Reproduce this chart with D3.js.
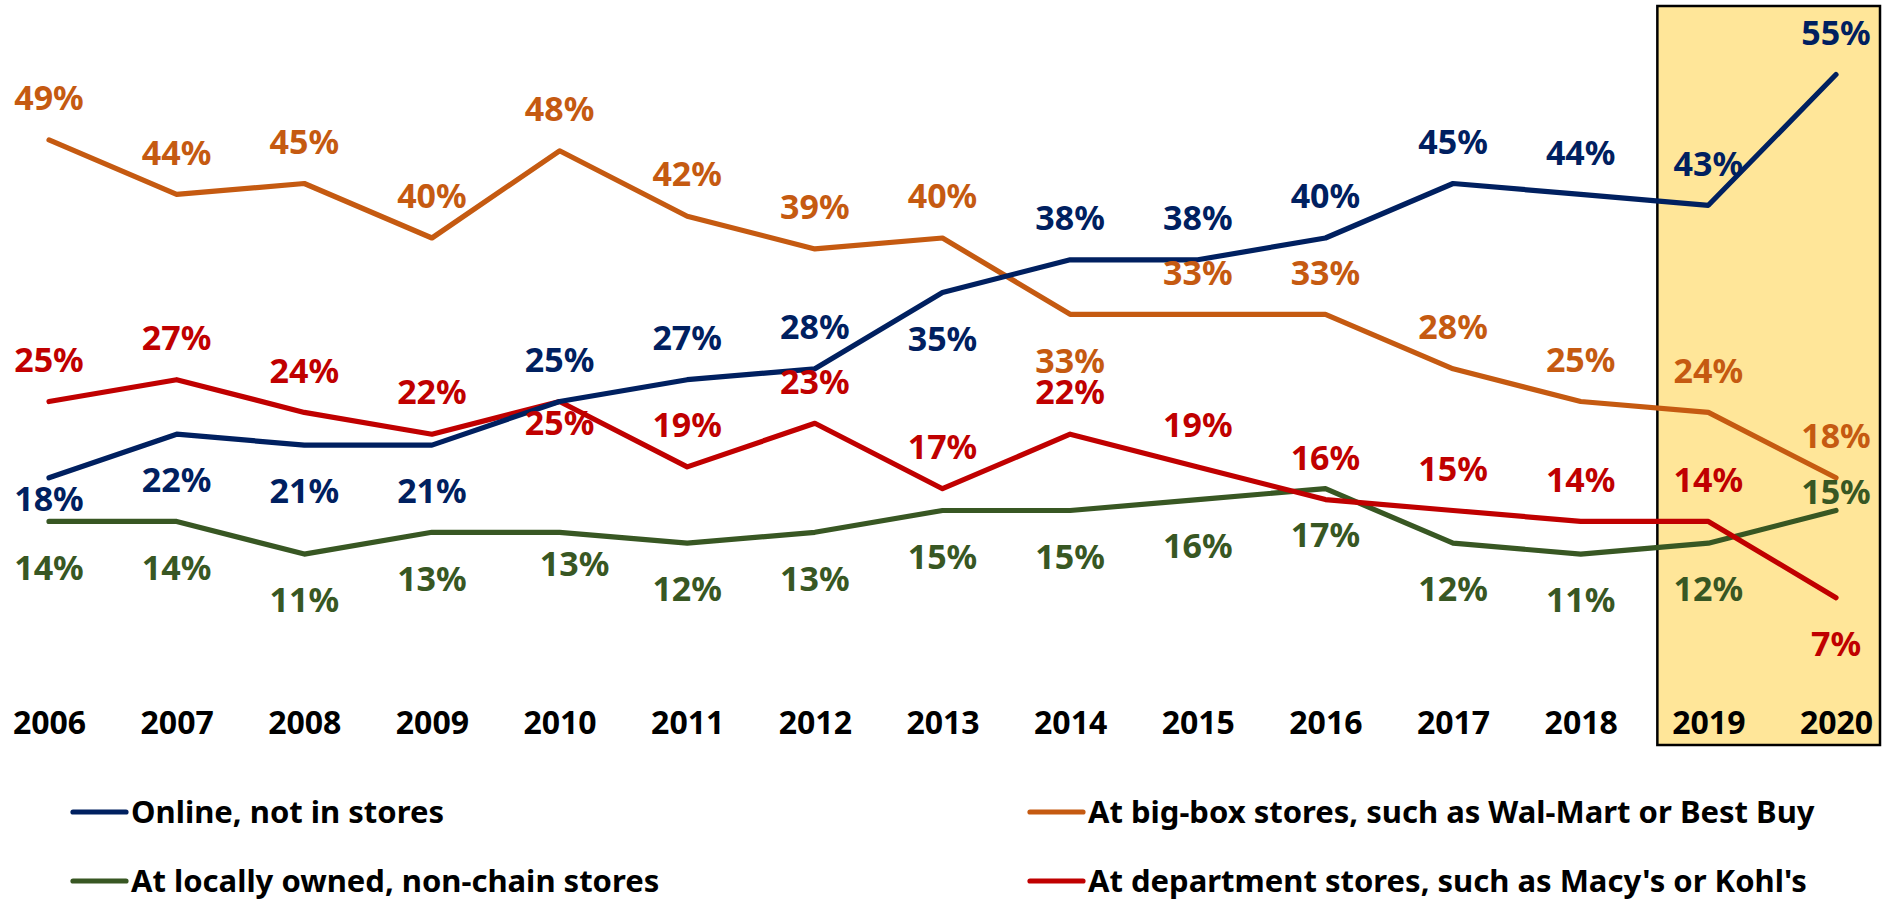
<!DOCTYPE html>
<html>
<head>
<meta charset="utf-8">
<script src="https://cdn.jsdelivr.net/npm/d3@7"></script>
<style>
  html, body { margin: 0; padding: 0; background: #fff; }
  svg { display: block; }
  text { font-family: "Noto Sans", Lato, sans-serif; font-weight: 700; }
</style>
</head>
<body>
<svg id="chart" width="1883" height="903"></svg>
<script>
// ---------------- data ----------------
const years = ["2006","2007","2008","2009","2010","2011","2012","2013","2014","2015","2016","2017","2018","2019","2020"];
const online   = [18, 22, 21, 21, 25, 27, 28, 35, 38, 38, 40, 45, 44, 43, 55];
const bigBox   = [49, 44, 45, 40, 48, 42, 39, 40, 33, 33, 33, 28, 25, 24, 18];
const local    = [14, 14, 11, 13, 13, 12, 13, 15, 15, 16, 17, 12, 11, 12, 15];
const dept     = [25, 27, 24, 22, 25, 19, 23, 17, 22, 19, 16, 15, 14, 14, 7];
const seriesNames = [
  "Online, not in stores",
  "At big-box stores, such as Wal-Mart or Best Buy",
  "At locally owned, non-chain stores",
  "At department stores, such as Macy's or Kohl's"
];
const highlightYears = ["2019", "2020"];

// label placement (a = above, b = below, n = near below, m = near above, c = shifted below)
const onlineLabelPos = ["n","b","b","b","a","a","a","b","a","a","a","a","a","a","a"];
const bigBoxLabelPos = ["a","a","a","a","a","a","a","a","b","a","a","a","a","a","a"];
const localLabelPos  = ["b","b","b","b","c","b","b","b","b","b","b","b","b","b","m"];
const deptLabelPos   = ["a","a","a","a","n","a","a","a","a","a","a","a","a","a","b"];

// ---------------- style ----------------
const colors = ["#002060", "#C55A11", "#385723", "#C00000"];
const svg = d3.select("#chart");

const x = d3.scalePoint().domain(years).range([49, 1836]);
const y = d3.scaleLinear().domain([0, 55]).range([674, 74.5]);

// highlight box
svg.append("rect")
  .attr("x", x(highlightYears[0]) - 51)
  .attr("y", 6)
  .attr("width", (x(highlightYears[1]) + 44) - (x(highlightYears[0]) - 51))
  .attr("height", 739)
  .attr("fill", "#FFE699")
  .attr("stroke", "#000")
  .attr("stroke-width", 2.5);

// year axis labels
const xAxis = d3.axisBottom(x).tickSize(0).tickPadding(0);
const axisG = svg.append("g").attr("transform", "translate(0,722)").call(xAxis);
axisG.select(".domain").remove();
axisG.selectAll("text")
  .attr("y", 0).attr("dy", "0.36em")
  .attr("font-size", 32)
  .attr("font-family", "'Noto Sans', sans-serif")
  .attr("font-weight", 700)
  .attr("fill", "#000");

const series = [
  { values: online, pos: onlineLabelPos },
  { values: bigBox, pos: bigBoxLabelPos },
  { values: local,  pos: localLabelPos },
  { values: dept,   pos: deptLabelPos }
];

const line = d3.line().x((d, i) => x(years[i])).y(d => y(d));

// draw order: local, dept, bigBox, online (online on top)
[2, 3, 1, 0].forEach(si => {
  svg.append("path")
    .datum(series[si].values)
    .attr("d", line)
    .attr("fill", "none")
    .attr("stroke", colors[si])
    .attr("stroke-width", 5.2)
    .attr("stroke-linecap", "round")
    .attr("stroke-linejoin", "round");
});

const offsets = { a: [0, -42], b: [0, 46], n: [0, 21], m: [0, -19], c: [15, 31] };
series.forEach((s, si) => {
  svg.append("g").selectAll("text")
    .data(s.values)
    .join("text")
    .attr("x", (d, i) => x(years[i]) + offsets[s.pos[i]][0])
    .attr("y", (d, i) => y(d) + offsets[s.pos[i]][1])
    .attr("dy", "0.36em")
    .attr("text-anchor", "middle")
    .attr("font-size", 34)
    .attr("fill", colors[si])
    .text(d => d + "%");
});

// legend
const legendItems = [
  { name: seriesNames[0], color: colors[0], lx: 73, ly: 812 },
  { name: seriesNames[1], color: colors[1], lx: 1030, ly: 812 },
  { name: seriesNames[2], color: colors[2], lx: 73, ly: 881 },
  { name: seriesNames[3], color: colors[3], lx: 1030, ly: 881 }
];
const lg = svg.append("g").selectAll("g").data(legendItems).join("g")
  .attr("transform", d => `translate(${d.lx},${d.ly})`);
lg.append("line")
  .attr("x1", 0).attr("x2", 53).attr("y1", 0).attr("y2", 0)
  .attr("stroke", d => d.color).attr("stroke-width", 5.2).attr("stroke-linecap", "round");
lg.append("text")
  .attr("x", 58).attr("y", 0).attr("dy", "0.34em")
  .attr("font-size", 31)
  .attr("fill", "#000")
  .text(d => d.name);
</script>
</body>
</html>
